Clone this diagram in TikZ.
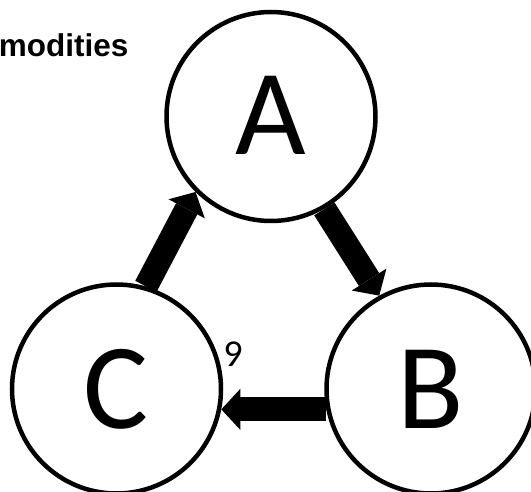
\documentclass[tikz,border=0pt]{standalone}
\usepackage{fontspec}
\setmainfont{Carlito}
\newfontfamily\titlefont{Liberation Sans}
\usetikzlibrary{arrows.meta}
\begin{document}
\begin{tikzpicture}[x=1pt,y=-1pt,
  bubble/.style={circle,draw,line width=4.5pt,minimum size=209pt,inner sep=0pt,font=\fontsize{122}{122}\selectfont},
  flow/.style={line width=24pt,-{Triangle[length=19pt,width=41pt,line width=0pt]}}]
\useasboundingbox (0,0) rectangle (531,492);
\clip (0,0) rectangle (531,492);
\node[bubble] (A) at (271,116.5) {\raisebox{3pt}{A}};
\node[bubble] (B) at (431,389) {B};
\node[bubble] (C) at (116.5,389) {\raisebox{1pt}{C}};
\draw[flow] (A.300) -- (B.119);
\draw[flow] (B.191) -- (C.349);
\draw[flow] (C.74) -- (A.225);
\node[anchor=base east,font=\titlefont\bfseries\fontsize{31.5}{31.5}\selectfont,inner sep=0pt] (T) at (128.5,57) {modities};
\node[font=\fontsize{38}{38}\selectfont,inner sep=0pt] (N) at (233,354) {9};
\end{tikzpicture}
\end{document}
